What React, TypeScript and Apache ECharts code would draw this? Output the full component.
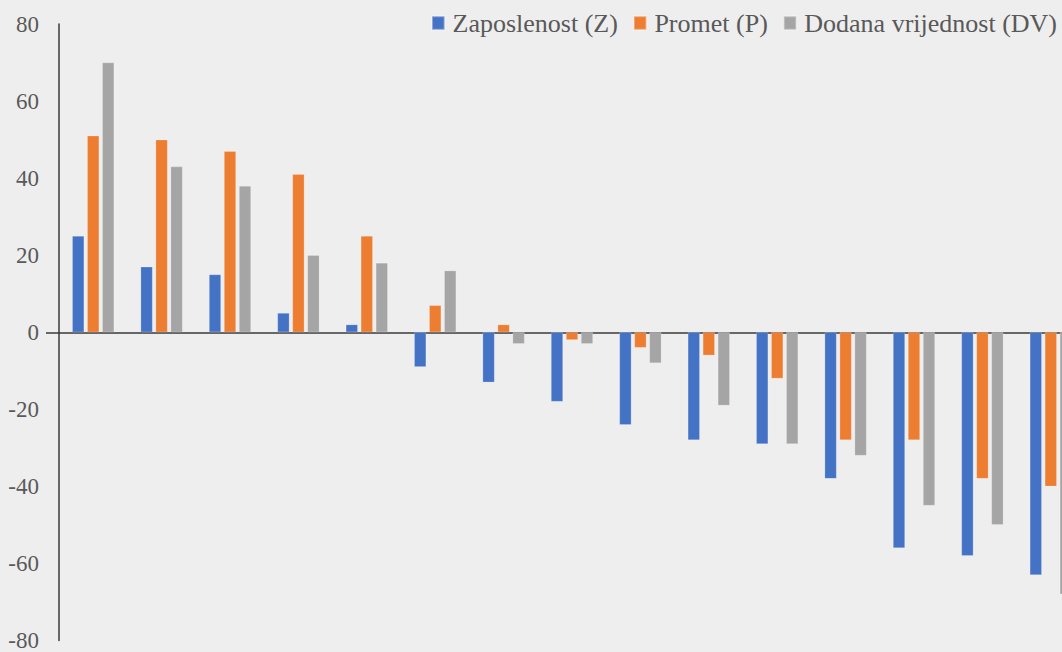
import React, { useEffect, useRef } from "react";
import * as echarts from "echarts";

const categories: string[] = ["1", "2", "3", "4", "5", "6", "7", "8", "9", "10", "11", "12", "13", "14", "15"];
const zaposlenost: number[] = [25, 17, 15, 5, 2, -9, -13, -18, -24, -28, -29, -38, -56, -58, -63];
const promet: number[] = [51, 50, 47, 41, 25, 7, 2, -2, -4, -6, -12, -28, -28, -38, -40];
const dodana: number[] = [70, 43, 38, 20, 18, 16, -3, -3, -8, -19, -29, -32, -45, -50, -68];
const seriesNames: string[] = ["Zaposlenost (Z)", "Promet (P)", "Dodana vrijednost (DV)"];
const seriesColors: string[] = ["#4472C4", "#ED7D31", "#A5A5A5"];
const yTicks = { min: -80, max: 80, interval: 20 };

const FONT = "Liberation Serif";

export default function App() {
  const ref = useRef<HTMLDivElement>(null);
  useEffect(() => {
    if (!ref.current) return;
    const chart = echarts.init(ref.current, undefined, { renderer: "svg" });
    const data = [zaposlenost, promet, dodana];
    chart.setOption({
      animation: false,
      backgroundColor: "#EEEEEE",
      textStyle: { fontFamily: FONT },
      legend: {
        data: seriesNames,
        right: 23,
        top: 5,
        icon: "rect",
        itemWidth: 12.5,
        itemHeight: 13.5,
        itemGap: 15,
        textStyle: { fontFamily: FONT, fontSize: 26, color: "#595959", padding: [0, 0, 0, 3] },
      },
      grid: { left: 59, right: 0, top: 24, bottom: 9, containLabel: false },
      xAxis: {
        type: "category",
        data: categories,
        axisLine: { show: true, onZero: true, lineStyle: { color: "#3a3a3a", width: 1.5 } },
        axisTick: { show: false },
        axisLabel: { show: false },
        splitLine: { show: false },
      },
      yAxis: {
        type: "value",
        min: yTicks.min,
        max: yTicks.max,
        interval: yTicks.interval,
        axisLine: { show: true, lineStyle: { color: "#3a3a3a", width: 1.5 } },
        axisTick: { show: true, customValues: [0], length: 13, lineStyle: { color: "#3a3a3a", width: 1.5 } },
        splitLine: { show: false },
        axisLabel: { fontFamily: FONT, fontSize: 23, color: "#595959", margin: 20 },
      },
      series: seriesNames.map((name, i) => ({
        name,
        type: "bar",
        data: data[i],
        barWidth: 12,
        barGap: "25%",
        itemStyle: { color: seriesColors[i], borderColor: "rgba(255,255,255,0.35)", borderWidth: 0.6 },
      })),
    });
    return () => chart.dispose();
  }, []);
  return (
    <div style={{ position: "fixed", left: 0, top: 0, width: 1062, height: 652, overflow: "hidden" }}>
      <div ref={ref} style={{ width: 1085, height: 652 }} />
    </div>
  );
}
